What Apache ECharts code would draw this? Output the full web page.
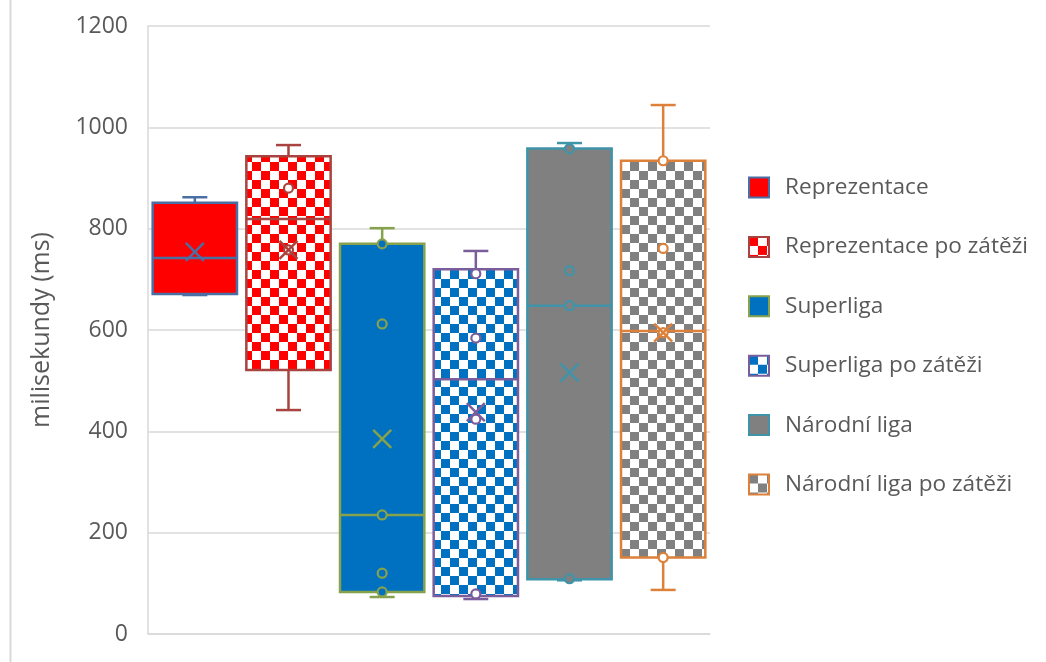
<!DOCTYPE html>
<html>
<head>
<meta charset="utf-8">
<title>Reakční doba</title>
<script src="https://cdn.jsdelivr.net/npm/echarts@6/dist/echarts.min.js"></script>
<style>
  html, body { margin: 0; padding: 0; background: #fff; }
  #main { width: 1046px; height: 662px; }
</style>
</head>
<body>
<div id="main"></div>
<script>
// skupiny - pořadí jako v legendě
const groups = ['Reprezentace', 'Reprezentace po zátěži', 'Superliga', 'Superliga po zátěži', 'Národní liga', 'Národní liga po zátěži'];
// krabicový graf, hodnoty v ms
const whiskerMin = [669, 442, 73, 69, 106, 87];
const q1 = [671, 521, 83, 75, 108, 151];
const median = [742, 819, 235, 503, 648, 598];
const q3 = [851, 943, 770, 720, 958, 934];
const whiskerMax = [862, 965, 801, 756, 969, 1044];
const mean = [754, 758, 385, 438, 516, 595];
// vnitřní body
const innerPoints = [
  [],
  [880, 758],
  [770, 612, 235, 120, 83],
  [711, 584, 424, 79],
  [958, 717, 648, 109],
  [934, 761, 595, 151]
];
const yTicks = [0, 200, 400, 600, 800, 1000, 1200];

// barvy
const baseColors = ['#FF0000', '#FF0000', '#0070C0', '#0070C0', '#808080', '#808080'];
const checkered = [false, true, false, true, false, true];
const lineColors = ['#4A6FA5', '#A9433F', '#86A24C', '#7A5E9C', '#3F94AA', '#DD8039'];

const FONT = '"Open Sans", sans-serif';
const TEXT = '#595959';
const GRID = '#D9D9D9';
const LW = 2.5;

// šachovnice přes canvas
function checker(color, size) {
  const c = document.createElement('canvas');
  c.width = c.height = size * 2;
  const ctx = c.getContext('2d');
  ctx.fillStyle = '#fff';
  ctx.fillRect(0, 0, size * 2, size * 2);
  ctx.fillStyle = color;
  ctx.fillRect(0, 0, size, size);
  ctx.fillRect(size, size, size, size);
  return { image: c, repeat: 'repeat' };
}
const fills = baseColors.map((c, i) => checkered[i] ? checker(c, 9) : c);
const markerFills = baseColors.map((c, i) => checkered[i] ? '#fff' : c);

function renderBox(params, api) {
  const s = params.seriesIndex;
  const col = lineColors[s];
  const x = api.value(0);
  const w = api.size([1, 0])[0] * 0.9;
  const cap = 25;
  const pt = v => api.coord([x, v]);
  const pMin = pt(api.value(1)), pQ1 = pt(api.value(2)), pMed = pt(api.value(3));
  const pQ3 = pt(api.value(4)), pMax = pt(api.value(5)), pMean = pt(api.value(6));
  const cx = pMed[0];
  const ln = (x1, y1, x2, y2) => ({
    type: 'line', shape: { x1, y1, x2, y2 },
    style: { stroke: col, lineWidth: LW }
  });
  const kids = [
    ln(cx, pQ3[1], cx, pMax[1]),
    ln(cx - cap / 2, pMax[1], cx + cap / 2, pMax[1]),
    ln(cx, pQ1[1], cx, pMin[1]),
    ln(cx - cap / 2, pMin[1], cx + cap / 2, pMin[1]),
    {
      type: 'rect',
      shape: { x: cx - w / 2, y: pQ3[1], width: w, height: pQ1[1] - pQ3[1] },
      style: { fill: fills[s], stroke: col, lineWidth: LW }
    },
    ln(cx - w / 2, pMed[1], cx + w / 2, pMed[1])
  ];
  innerPoints[s].forEach(v => {
    const p = pt(v);
    kids.push({
      type: 'circle', shape: { cx: p[0], cy: p[1], r: 4.5 },
      style: { fill: markerFills[s], stroke: col, lineWidth: 2.2 }
    });
  });
  const m = 9;
  kids.push(ln(pMean[0] - m, pMean[1] - m, pMean[0] + m, pMean[1] + m));
  kids.push(ln(pMean[0] - m, pMean[1] + m, pMean[0] + m, pMean[1] - m));
  return { type: 'group', children: kids };
}

const chart = echarts.init(document.getElementById('main'));
chart.setOption({
  animation: false,
  backgroundColor: '#fff',
  grid: { left: 148, right: 336, top: 26, bottom: 28 },
  legend: {
    orient: 'vertical',
    left: 748,
    top: 176,
    padding: 0,
    icon: 'rect',
    itemWidth: 20,
    itemHeight: 20,
    itemGap: 36.4,
    selectedMode: false,
    textStyle: { fontFamily: FONT, fontSize: 22.6, color: TEXT, padding: [0, 0, 0, 11] },
    data: groups.map((g, i) => ({
      name: g,
      itemStyle: { color: fills[i], borderColor: lineColors[i], borderWidth: 2 }
    }))
  },
  xAxis: {
    type: 'category',
    data: groups,
    axisLabel: { show: false },
    axisTick: { show: false },
    axisLine: { show: true, lineStyle: { color: GRID, width: 1.5 } },
    splitLine: { show: false }
  },
  yAxis: {
    type: 'value',
    min: yTicks[0],
    max: yTicks[yTicks.length - 1],
    interval: yTicks[1] - yTicks[0],
    name: 'milisekundy (ms)',
    nameLocation: 'middle',
    nameGap: 94,
    nameTextStyle: { fontFamily: FONT, fontSize: 25, color: TEXT },
    axisLabel: {
      fontFamily: FONT, fontSize: 23, color: TEXT, margin: 20,
      formatter: v => String(v)
    },
    axisTick: { show: false },
    axisLine: { show: true, lineStyle: { color: GRID, width: 1.5 } },
    splitLine: { lineStyle: { color: GRID, width: 1.5 } }
  },
  graphic: [{
    type: 'line',
    shape: { x1: 10.5, y1: 0, x2: 10.5, y2: 662 },
    style: { stroke: GRID, lineWidth: 2 }
  }],
  series: groups.map((g, i) => ({
    name: g,
    type: 'custom',
    renderItem: renderBox,
    itemStyle: { color: fills[i], borderColor: lineColors[i], borderWidth: 2 },
    encode: { x: 0, y: [1, 2, 3, 4, 5, 6] },
    data: [[i, whiskerMin[i], q1[i], median[i], q3[i], whiskerMax[i], mean[i]]]
  }))
});
window.onresize = function () {
  chart.resize();
};
</script>
</body>
</html>
